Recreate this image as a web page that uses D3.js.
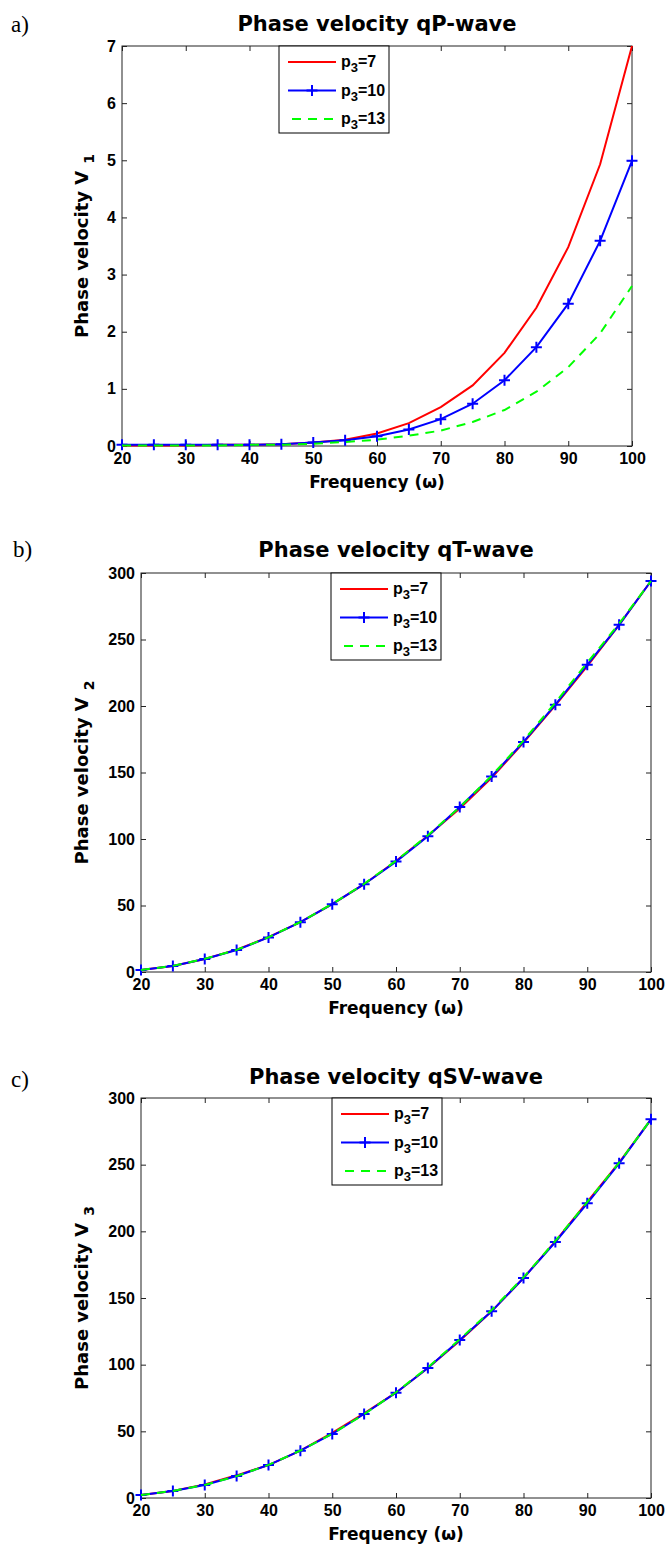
<!DOCTYPE html>
<html>
<head>
<meta charset="utf-8">
<script src="https://cdn.jsdelivr.net/npm/d3@7"></script>
<style>
  body { margin: 0; background: #fff; }
  .title, .axis-label { font-family: "DejaVu Sans", sans-serif; font-weight: bold; fill: #000; }
  .tag { font-family: "Liberation Serif", "Times New Roman", serif; fill: #000; }
  .tick text, .legend text { font-family: "Liberation Sans Narrow", "Arial Narrow", "Liberation Sans", sans-serif; font-weight: bold; fill: #000; }
  .tick line { stroke: #222; }
</style>
</head>
<body>
<svg id="fig" width="666" height="1549"></svg>
<script>
// frequency samples (omega), shared by all three panels
var freq = [20, 25, 30, 35, 40, 45, 50, 55, 60, 65, 70, 75, 80, 85, 90, 95, 100];
var p3Values = [7, 10, 13];

// a) qP-wave, V1
var qP_p7  = [0.01, 0.01, 0.01, 0.02, 0.02, 0.03, 0.06, 0.11, 0.22, 0.40, 0.68, 1.06, 1.63, 2.42, 3.48, 4.93, 7.00];
var qP_p10 = [0.02, 0.02, 0.02, 0.02, 0.02, 0.03, 0.06, 0.10, 0.17, 0.29, 0.47, 0.74, 1.15, 1.73, 2.49, 3.59, 4.99];
var qP_p13 = [0.01, 0.01, 0.01, 0.01, 0.02, 0.02, 0.04, 0.07, 0.11, 0.18, 0.27, 0.42, 0.63, 0.95, 1.38, 1.97, 2.80];

// b) qT-wave, V2
var qT_p7  = [1.5, 4.5, 9.8, 16.8, 26.2, 37.5, 51.0, 66.0, 83.5, 102.5, 123.0, 146.0, 172.5, 200.5, 230.0, 261.0, 294.0];
var qT_p10 = [1.5, 4.5, 9.8, 16.5, 26.0, 37.5, 51.0, 66.0, 83.0, 102.0, 124.0, 147.0, 173.0, 201.0, 231.0, 261.0, 294.0];
var qT_p13 = [1.5, 4.6, 9.9, 16.6, 26.1, 37.6, 51.2, 66.3, 83.6, 102.8, 124.0, 147.5, 174.0, 202.5, 232.5, 262.0, 294.0];

// c) qSV-wave, V3
var qSV_p7  = [2.2, 5.2, 10.2, 17.0, 24.7, 35.5, 48.8, 63.5, 79.0, 97.5, 118.0, 140.0, 165.0, 192.5, 222.0, 251.5, 284.0];
var qSV_p10 = [2.2, 5.2, 9.7, 16.5, 24.7, 35.5, 48.0, 63.0, 79.0, 97.5, 118.5, 140.0, 165.0, 192.0, 221.0, 251.0, 284.0];
var qSV_p13 = [2.2, 5.3, 9.8, 16.4, 24.8, 35.6, 48.2, 62.8, 79.3, 98.0, 119.0, 141.0, 165.5, 192.8, 222.0, 251.5, 284.0];

var freqTicks = [20, 30, 40, 50, 60, 70, 80, 90, 100];
var v1Ticks = [0, 1, 2, 3, 4, 5, 6, 7];
var v23Ticks = [0, 50, 100, 150, 200, 250, 300];

var seriesColors = ['#ff0000', '#0000ff', '#00ff00'];

var panels = [
    { tag: 'a)', title: 'Phase velocity qP-wave', sub: '1', yMax: 7, yTicks: v1Ticks,
      series: [qP_p7, qP_p10, qP_p13],
      left: 122, right: 632, top: 46, bottom: 446, legendX: 279, tagX: 11, tagY: 32, titleY: 31 },
    { tag: 'b)', title: 'Phase velocity qT-wave', sub: '2', yMax: 300, yTicks: v23Ticks,
      series: [qT_p7, qT_p10, qT_p13],
      left: 141, right: 651, top: 573, bottom: 972, legendX: 331, tagX: 13, tagY: 557, titleY: 557 },
    { tag: 'c)', title: 'Phase velocity qSV-wave', sub: '3', yMax: 300, yTicks: v23Ticks,
      series: [qSV_p7, qSV_p10, qSV_p13],
      left: 141, right: 651, top: 1098, bottom: 1498, legendX: 332, tagX: 11, tagY: 1087, titleY: 1084 }
];

var svg = d3.select('#fig');
svg.append('rect').attr('width', 666).attr('height', 1549).attr('fill', '#fff');

var plusPath = 'M-5.5,0H5.5M0,-5.5V5.5';

function drawPanel(p) {
    var x = d3.scaleLinear().domain([20, 100]).range([p.left, p.right]);
    var y = d3.scaleLinear().domain([0, p.yMax]).range([p.bottom, p.top]);
    var g = svg.append('g');

    // ticks point inwards on all four sides
    g.append('g').attr('transform', 'translate(0,' + p.bottom + ')')
        .call(d3.axisBottom(x).tickValues(freqTicks).tickSize(-5).tickSizeOuter(0).tickPadding(7))
        .attr('font-size', 16);
    g.append('g').attr('transform', 'translate(0,' + p.top + ')')
        .call(d3.axisTop(x).tickValues(freqTicks).tickSize(-5).tickSizeOuter(0).tickFormat(''));
    g.append('g').attr('transform', 'translate(' + p.left + ',0)')
        .call(d3.axisLeft(y).tickValues(p.yTicks).tickFormat(d3.format('d'))
              .tickSize(-5).tickSizeOuter(0).tickPadding(6))
        .attr('font-size', 16);
    g.append('g').attr('transform', 'translate(' + p.right + ',0)')
        .call(d3.axisRight(y).tickValues(p.yTicks).tickSize(-5).tickSizeOuter(0).tickFormat(''));
    g.selectAll('.domain').remove();

    g.append('rect')
        .attr('x', p.left).attr('y', p.top)
        .attr('width', p.right - p.left).attr('height', p.bottom - p.top)
        .attr('fill', 'none').attr('stroke', '#222').attr('stroke-width', 1);

    var line = d3.line()
        .x(function (d, i) { return x(freq[i]); })
        .y(function (d) { return y(d); });

    p.series.forEach(function (vals, k) {
        var path = g.append('path')
            .datum(vals)
            .attr('d', line)
            .attr('fill', 'none')
            .attr('stroke', seriesColors[k])
            .attr('stroke-width', 2);
        if (k === 2) path.attr('stroke-dasharray', '9,7');
        if (k === 1) {
            g.selectAll('path.mark').data(vals).enter()
                .append('path')
                .attr('class', 'mark')
                .attr('transform', function (d, i) { return 'translate(' + x(freq[i]) + ',' + y(d) + ')'; })
                .attr('d', plusPath)
                .attr('stroke', seriesColors[k])
                .attr('stroke-width', 2);
        }
    });

    // legend
    var lg = g.append('g').attr('class', 'legend')
        .attr('transform', 'translate(' + p.legendX + ',' + p.top + ')');
    lg.append('rect').attr('width', 110).attr('height', 87)
        .attr('fill', '#fff').attr('stroke', '#000').attr('stroke-width', 1);
    p3Values.forEach(function (v, k) {
        var ly = 16 + k * 28.5;
        var ln = lg.append('line')
            .attr('x1', 9).attr('x2', 57).attr('y1', ly).attr('y2', ly)
            .attr('stroke', seriesColors[k]).attr('stroke-width', 2);
        if (k === 2) ln.attr('stroke-dasharray', '9,7').attr('x1', 13);
        if (k === 1) {
            lg.append('path').attr('transform', 'translate(33,' + ly + ')')
                .attr('d', plusPath).attr('stroke', seriesColors[k]).attr('stroke-width', 2);
        }
        var t = lg.append('text').attr('x', 62).attr('y', ly + 5).attr('font-size', 16);
        t.append('tspan').text('p');
        t.append('tspan').attr('dy', 5).attr('font-size', 13).text('3');
        t.append('tspan').attr('dy', -5).text('=' + v);
    });

    // titles and labels
    var cx = (p.left + p.right) / 2;
    svg.append('text').attr('class', 'title')
        .attr('x', cx).attr('y', p.titleY)
        .attr('text-anchor', 'middle').attr('font-size', 21)
        .text(p.title);
    svg.append('text').attr('class', 'tag')
        .attr('x', p.tagX).attr('y', p.tagY)
        .attr('font-size', 23)
        .text(p.tag);
    svg.append('text').attr('class', 'axis-label')
        .attr('x', cx).attr('y', p.bottom + 42)
        .attr('text-anchor', 'middle').attr('font-size', 17)
        .text('Frequency (\u03c9)');
    var yl = svg.append('text').attr('class', 'axis-label')
        .attr('transform', 'translate(88,' + (p.top + p.bottom) / 2 + ') rotate(-90)')
        .attr('text-anchor', 'middle').attr('font-size', 18);
    yl.append('tspan').text('Phase velocity V');
    yl.append('tspan').attr('dx', 7).attr('dy', 6).attr('font-size', 14).text(p.sub);
}

panels.forEach(drawPanel);
</script>
</body>
</html>
